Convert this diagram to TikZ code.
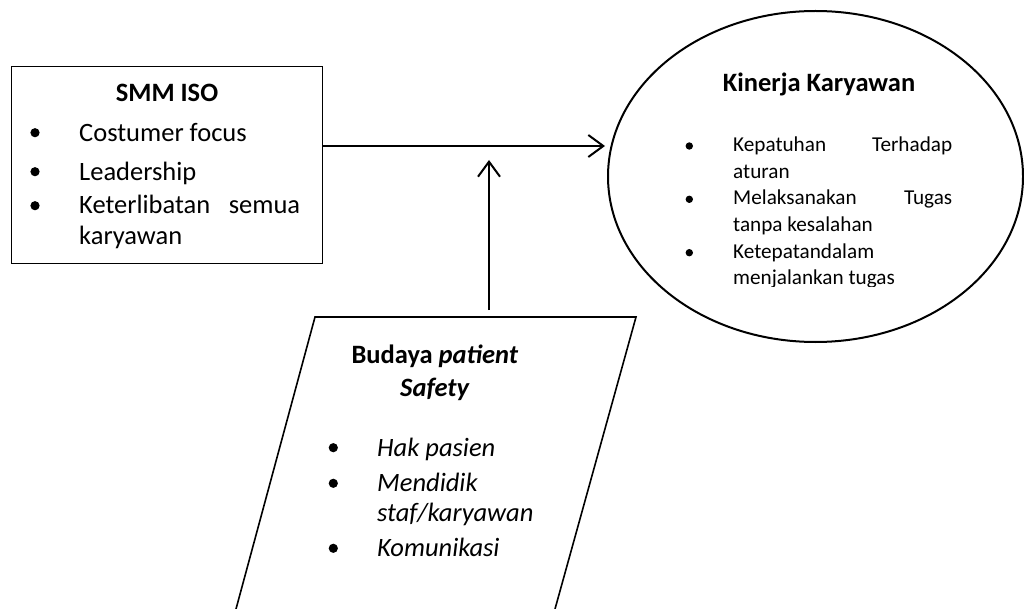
\documentclass[tikz,border=0pt]{standalone}
\usepackage{fontspec}
\setmainfont{Carlito}
\usetikzlibrary{arrows.meta,shapes.geometric}
\begin{document}
\begin{tikzpicture}[x=1pt,y=-1pt,
  txt/.style={anchor=base west, inner sep=0pt, font=\fontsize{26.5}{31}\selectfont},
  stxt/.style={anchor=base west, inner sep=0pt, font=\fontsize{21.2}{26}\selectfont},
  ttl/.style={anchor=base, inner sep=0pt, font=\fontsize{26.5}{31}\selectfont\bfseries},
  arr/.style={line width=2pt, -{Straight Barb[length=15pt,width=22pt]}},
  bigdot/.style={radius=4.6pt},
  smalldot/.style={radius=3.7pt}
]
\useasboundingbox (0,0) rectangle (1024,609);

% left box
\node[draw, line width=1.4pt, minimum width=311pt, minimum height=197pt, inner sep=0pt, anchor=north west] (box) at (11,66) {};
\node[ttl] (boxtitle) at (167,101.5) {SMM ISO};
\fill (35,132.7) circle[bigdot];
\node[txt] (b1) at (79,141.5) {Costumer focus};
\fill (35,171.7) circle[bigdot];
\node[txt] (b2) at (79,180.5) {Leadership};
\fill (35,205.7) circle[bigdot];
\node[txt] (b3) at (79,214) {\makebox[221pt][s]{Keterlibatan semua}};
\node[txt] (b3b) at (79,245) {karyawan};

% ellipse
\node[draw, ellipse, line width=2pt, minimum width=415pt, minimum height=331pt, inner sep=0pt] (ell) at (815.5,176.5) {};
\node[ttl] (elltitle) at (819,91.5) {Kinerja Karyawan};
\begin{scope}
\clip (600,0) rectangle (1024,287);
\fill (689.3,146) circle[smalldot];
\node[stxt] (e1) at (733,152) {\makebox[219pt][s]{Kepatuhan Terhadap}};
\node[stxt] (e1b) at (733,178.5) {aturan};
\fill (689.3,199.3) circle[smalldot];
\node[stxt] (e2) at (733,205) {\makebox[219pt][s]{Melaksanakan Tugas}};
\node[stxt] (e2b) at (733,231.5) {tanpa kesalahan};
\fill (689.3,252.7) circle[smalldot];
\node[stxt] (e3) at (733,258.5) {Ketepatandalam};
\node[stxt] (e3b) at (733,284.5) {menjalankan tugas};
\end{scope}

% parallelogram
\coordinate (pbl) at (236,609);
\coordinate (ptl) at (315,317);
\coordinate (ptr) at (636,317);
\coordinate (pbr) at (555,609);
\coordinate (ptop) at (489,317);
\draw[line width=1.6pt, line join=miter] (pbl) -- (ptl) -- (ptr) -- (pbr);
\node[ttl] (ptitle1) at (435,363.3) {Budaya \textit{patient}};
\node[ttl] (ptitle2) at (435,396.5) {\textit{Safety}};
\fill (333.3,447.7) circle[bigdot];
\node[txt] (p1) at (377,456.7) {\textit{Hak pasien}};
\fill (333.3,483.3) circle[bigdot];
\node[txt] (p2) at (377,491.7) {\textit{Mendidik}};
\node[txt] (p2b) at (377,521.7) {\textit{staf/karyawan}};
\fill (333.3,548.3) circle[bigdot];
\node[txt] (p3) at (377,556.7) {\textit{Komunikasi}};

% connectors
\coordinate (hrow) at (0,146);
\coordinate (htip) at (605,146);
\coordinate (vtip) at (489,160);
\draw[arr] (box.east |- hrow) -- (htip);
\draw[arr] ([yshift=7pt]ptop) -- (vtip);
\end{tikzpicture}
\end{document}
